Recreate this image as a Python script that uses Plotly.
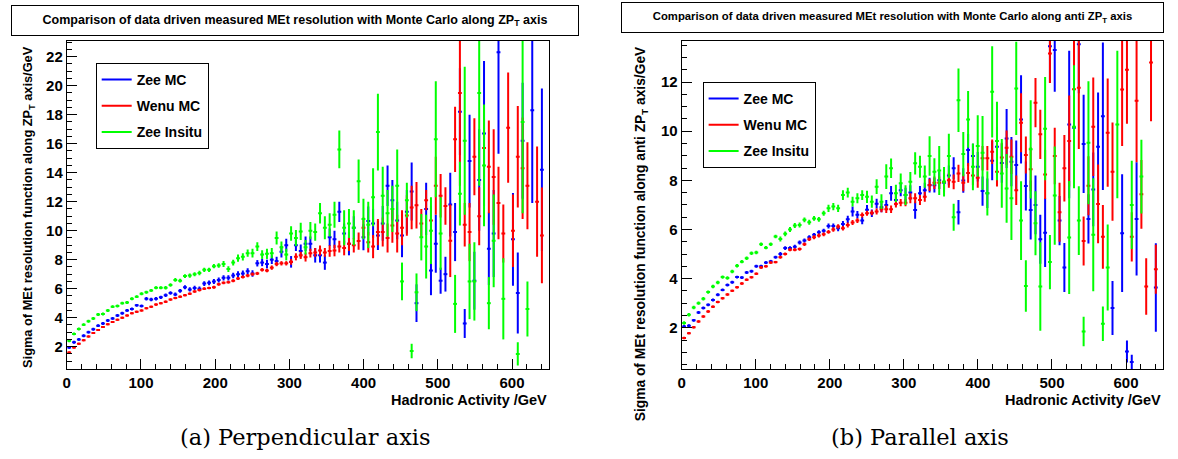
import plotly.graph_objects as go

# ---------------- data ----------------
n_bins = 100
x_low, x_high = 0.0, 650.0
bin_w = (x_high - x_low) / n_bins
hadronic_activity = [x_low + bin_w * (i + 0.5) for i in range(n_bins)]

# Perpendicular axis (left panel)
perp_zee_mc = [
    1.95, 2.3, 2.5, 2.75, 3.0, 3.2, 3.45, 3.6, 3.8, 3.95,
    4.15, 4.3, 4.5, 4.6, 4.85, 4.8, 5.3, 5.25, 5.3, 5.4,
    5.55, 5.7, 5.6, 5.85, 6.1, 5.95, 6.05, 6.0, 6.35, 6.4,
    6.5, 6.6, 6.75, 6.75, 6.9, 7.0, 7.05, 7.2, 7.05, 7.75,
    7.8, 7.7, 8.0, 7.9, 8.55, 9.0, 7.85, 9.0, 8.6, 9.1,
    9.1, 8.3, 8.3, 7.8, 9.55, 9.4, 11.3, 9.8, 9.1, 10.2,
    None, 9.55, 10.66, 10.5, 9.67, 10.5, 13.1, 12.1, 10.7, 9.67,
    11.3, 12.7, 5.0, None, 11.5, 7.25, 9.1, 6.55, 7.0, 11.8,
    9.9, 18.2, 3.6, 14.8, 6.55, 13.5, 16.7, 8.75, 9.8, 22.3,
    None, None, 9.4, 5.7, 16.2, None, 18.3, None, 14.2, None]
perp_zee_mc_err = [
    0.1, 0.1, 0.1, 0.1, 0.1, 0.1, 0.1, 0.1, 0.1, 0.1,
    0.1, 0.1, 0.1, 0.1, 0.1, 0.1, 0.12, 0.12, 0.12, 0.12,
    0.12, 0.12, 0.13, 0.13, 0.14, 0.14, 0.15, 0.15, 0.16, 0.16,
    0.17, 0.17, 0.18, 0.18, 0.19, 0.2, 0.2, 0.2, 0.22, 0.22,
    0.25, 0.3, 0.3, 0.3, 0.4, 0.45, 0.4, 0.4, 0.45, 0.5,
    0.5, 0.5, 0.5, 0.5, 0.6, 0.6, 0.7, 0.7, 0.8, 0.8,
    0.0, 0.9, 1.0, 1.0, 1.0, 1.2, 1.4, 1.4, 1.3, 1.5,
    1.5, 2.0, 1.3, 0.0, 1.8, 1.7, 2.0, 0.9, 1.2, 2.2,
    2.0, 3.0, 1.0, 3.2, 2.0, 3.5, 5.0, 2.5, 3.0, 7.0,
    0.0, 0.0, 3.2, 2.8, 4.0, 0.0, 6.4, 0.0, 5.6, 0.0]

perp_wenu_mc = [
    1.6, 1.95, 2.2, 2.45, 2.7, 2.95, 3.15, 3.35, 3.55, 3.7,
    3.85, 4.0, 4.15, 4.3, 4.4, 4.5, 4.65, 4.75, 4.9, 5.0,
    5.1, 5.25, 5.35, 5.45, 5.55, 5.65, 5.8, 5.9, 6.0, 6.05,
    6.1, 6.3, 6.4, 6.45, 6.55, 6.7, 6.8, 6.9, 7.0, 7.05,
    7.3, 7.25, 7.45, 7.7, 7.75, 7.75, 7.85, 8.2, 8.3, 8.17,
    8.45, 8.5, 8.63, 8.5, 8.6, 8.63, 8.9, 8.8, 9.1, 9.0,
    9.28, 10.2, 9.2, 8.9, 9.9, 9.9, 9.5, 10.36, 9.8, 10.2,
    11.05, 11.6, 11.75, 10.5, 12.1, 10.7, 13.1, 12.4, 11.7, 9.3,
    16.3, 19.5, 10.4, 9.9, 15.1, 11.0, 15.7, 14.4, 13.7, 11.9,
    9.8, 17.1, 10.0, 15.1, 14.3, 13.1, None, 12.0, 9.67, None]
perp_wenu_mc_err = [
    0.07, 0.07, 0.07, 0.07, 0.07, 0.07, 0.07, 0.07, 0.07, 0.07,
    0.07, 0.07, 0.07, 0.07, 0.07, 0.07, 0.07, 0.07, 0.07, 0.07,
    0.08, 0.08, 0.08, 0.08, 0.08, 0.09, 0.09, 0.09, 0.09, 0.09,
    0.1, 0.1, 0.1, 0.1, 0.1, 0.1, 0.1, 0.11, 0.11, 0.11,
    0.12, 0.12, 0.15, 0.15, 0.15, 0.15, 0.2, 0.25, 0.25, 0.3,
    0.3, 0.3, 0.35, 0.3, 0.4, 0.4, 0.4, 0.5, 0.5, 0.5,
    0.6, 0.7, 0.7, 0.8, 0.9, 1.0, 1.0, 1.2, 1.3, 1.2,
    1.4, 1.5, 1.6, 1.0, 0.7, 1.0, 2.0, 1.5, 1.3, 2.5,
    2.25, 6.4, 1.5, 2.0, 2.65, 2.0, 2.0, 3.2, 3.3, 2.5,
    2.0, 3.8, 2.5, 3.5, 3.5, 3.0, 0.0, 3.8, 3.3, 0.0]

perp_zee_insitu = [
    2.41, 2.88, 3.22, 3.52, 3.75, 3.94, 4.22, 4.25, 4.49, 4.76,
    4.8, 5.0, 5.05, 5.3, 5.45, 5.65, 5.75, 5.88, 6.06, 6.06,
    6.06, 6.25, 6.6, 6.55, 6.87, 6.9, 7.0, 7.08, 7.3, 7.3,
    7.55, 7.6, 7.7, 7.35, 7.8, 8.1, 8.2, 8.45, 8.45, 8.9,
    8.35, 8.4, 8.45, 9.5, 8.85, 8.35, 9.8, 9.5, 9.95, 8.85,
    10.0, 9.9, 11.2, 10.2, 10.4, 11.1, 15.6, 10.2, 10.5, 10.2,
    13.4, 10.8, 10.4, 12.3, 16.8, 12.4, 11.2, 11.5, 13.1, 6.5,
    12.1, 1.7, 5.75, 9.55, 8.9, 10.0, 16.3, 9.8, None, None,
    4.95, 12.55, 16.2, 6.5, 6.5, 19.5, 14.5, 5.0, 9.3, None,
    5.3, None, None, 1.5, 17.5, 4.6, None, None, None, None]
perp_zee_insitu_err = [
    0.1, 0.1, 0.1, 0.1, 0.1, 0.1, 0.1, 0.1, 0.1, 0.1,
    0.1, 0.1, 0.1, 0.1, 0.1, 0.1, 0.1, 0.1, 0.1, 0.1,
    0.12, 0.12, 0.13, 0.13, 0.13, 0.14, 0.14, 0.15, 0.15, 0.15,
    0.15, 0.15, 0.2, 0.2, 0.2, 0.25, 0.25, 0.25, 0.3, 0.3,
    0.3, 0.35, 0.35, 0.45, 0.4, 0.4, 0.5, 0.55, 0.6, 0.5,
    0.6, 0.6, 0.7, 0.8, 0.8, 0.9, 1.3, 1.2, 1.0, 1.2,
    1.5, 1.4, 1.6, 2.0, 2.65, 2.0, 1.6, 1.6, 2.5, 1.3,
    1.2, 0.5, 1.3, 1.6, 2.2, 2.3, 4.0, 2.5, 0.0, 0.0,
    2.0, 2.2, 5.1, 2.6, 2.7, 6.4, 4.2, 1.8, 3.2, 0.0,
    2.8, 0.0, 0.0, 0.8, 6.3, 1.9, 0.0, 0.0, 0.0, 0.0]

# Parallel axis (right panel)
par_zee_mc = [
    2.05, 2.08, 2.3, 2.62, 2.8, 2.93, 3.13, 3.34, 3.54, 3.74,
    3.85, 4.06, 4.04, 4.25, 4.3, 4.5, 4.5, 4.65, 4.7, 4.87,
    5.0, 5.24, 5.24, 5.3, 5.47, 5.55, 5.68, 5.78, 5.89, 5.95,
    6.14, 6.14, 6.05, 6.22, 6.41, 6.73, 6.6, 6.36, 6.8, 6.66,
    7.05, 6.9, 7.0, 7.47, 7.2, 7.6, 7.4, 7.5, 6.79, 7.47,
    7.6, 7.8, 7.8, 8.0, 7.9, 8.2, 8.49, 6.7, 7.99, 9.23,
    8.99, 8.55, 7.56, 7.47, 8.8, 9.37, 8.7, 9.7, 8.76, 8.62,
    10.48, 7.77, 6.79, 7.0, 5.6, 5.87, 13.46, 13.3, 6.36, 4.45,
    10.27, 10.14, 13.54, 9.48, 6.43, 7.63, 9.37, 10.61, None, 2.8,
    None, 5.85, 1.03, 0.6, 6.43, None, None, None, 3.64, None]
par_zee_mc_err = [
    0.06, 0.06, 0.06, 0.06, 0.06, 0.06, 0.06, 0.06, 0.06, 0.06,
    0.06, 0.06, 0.06, 0.06, 0.06, 0.06, 0.06, 0.06, 0.06, 0.06,
    0.08, 0.08, 0.08, 0.08, 0.08, 0.08, 0.08, 0.08, 0.08, 0.08,
    0.1, 0.1, 0.12, 0.12, 0.15, 0.2, 0.15, 0.15, 0.2, 0.15,
    0.2, 0.2, 0.2, 0.3, 0.25, 0.25, 0.3, 0.3, 0.35, 0.3,
    0.3, 0.3, 0.3, 0.35, 0.4, 0.4, 0.45, 0.5, 0.5, 0.65,
    0.5, 0.6, 0.6, 0.6, 0.8, 0.8, 0.8, 1.2, 1.0, 1.0,
    1.8, 1.0, 1.2, 1.2, 1.0, 1.4, 1.5, 1.7, 1.0, 1.0,
    3.0, 1.6, 2.0, 2.0, 1.0, 1.5, 2.2, 3.0, 0.0, 1.1,
    0.0, 2.4, 0.45, 0.3, 2.3, 0.0, 0.0, 0.0, 1.8, 0.0]

par_wenu_mc = [
    1.58, 1.78, 2.02, 2.25, 2.46, 2.66, 2.85, 3.05, 3.2, 3.35,
    3.5, 3.65, 3.8, 3.95, 4.05, 4.2, 4.45, 4.5, 4.65, 4.67,
    4.87, 5.0, 5.17, 5.17, 5.2, 5.4, 5.6, 5.68, 5.75, 5.8,
    5.9, 6.0, 6.12, 6.05, 6.18, 6.28, 6.36, 6.59, 6.66, 6.68,
    6.73, 6.82, 6.82, 6.82, 7.04, 7.09, 7.09, 7.27, 7.27, 7.2,
    7.33, 7.81, 7.9, 7.9, 7.94, 8.0, 7.94, 8.28, 7.9, 8.3,
    8.2, 8.1, 8.9, 8.9, 9.16, 8.35, 8.93, 9.33, 8.96, 7.6,
    10.34, 9.03, 8.45, 11.16, 9.87, 8.24, 13.16, 8.99, 6.7, 8.49,
    9.6, 11.71, 11.77, 5.53, 7.78, 10.18, 7.04, 5.7, 9.94, 8.35,
    None, 11.7, 12.5, 5.7, 11.24, 7.43, 3.68, 12.8, 4.38, None]
par_wenu_mc_err = [
    0.05, 0.05, 0.05, 0.05, 0.05, 0.05, 0.05, 0.05, 0.05, 0.05,
    0.05, 0.05, 0.05, 0.05, 0.05, 0.05, 0.05, 0.05, 0.05, 0.05,
    0.06, 0.06, 0.06, 0.06, 0.07, 0.07, 0.07, 0.08, 0.08, 0.08,
    0.08, 0.09, 0.09, 0.09, 0.1, 0.1, 0.1, 0.1, 0.1, 0.1,
    0.12, 0.12, 0.15, 0.15, 0.15, 0.15, 0.15, 0.2, 0.2, 0.2,
    0.2, 0.25, 0.25, 0.25, 0.3, 0.3, 0.3, 0.35, 0.35, 0.4,
    0.4, 0.4, 0.5, 0.5, 0.5, 0.6, 0.6, 0.7, 0.7, 0.6,
    1.2, 0.75, 0.9, 1.0, 1.0, 1.0, 1.2, 1.15, 1.2, 1.35,
    1.85, 2.5, 2.5, 1.0, 1.2, 2.0, 1.6, 1.3, 2.2, 2.0,
    0.0, 2.3, 2.2, 1.0, 2.5, 1.4, 1.15, 2.4, 1.0, 0.0]

par_zee_insitu = [
    2.19, 2.53, 2.82, 3.0, 3.18, 3.45, 3.68, 3.84, 4.06, 4.02,
    4.29, 4.52, 4.69, 4.83, 5.03, 5.06, 5.4, 5.26, 5.4, 5.71,
    5.61, 5.82, 6.0, 6.16, 6.18, 6.39, 6.29, 6.45, 6.41, 6.66,
    6.86, 6.93, 6.86, 7.4, 7.5, 7.13, 7.27, 7.4, 7.33, 7.13,
    7.74, 7.13, 8.15, 8.49, 7.47, 7.88, 7.4, 7.94, 8.69, 8.55,
    8.15, 8.99, 8.35, 8.4, 7.94, 8.99, 6.5, 11.26, 9.07, 10.48,
    8.55, 9.4, 9.12, 7.47, 11.6, 9.6, 8.28, 7.67, 7.27, 11.74,
    6.36, 3.7, 9.26, 6.25, 3.68, 10.1, 4.67, 7.38, None, None,
    5.67, 10.18, 6.36, 1.85, 9.53, 5.78, None, 2.16, 4.45, None,
    10.27, None, None, 7.0, None, 8.15, None, None, None, None]
par_zee_insitu_err = [
    0.07, 0.07, 0.07, 0.07, 0.07, 0.07, 0.07, 0.07, 0.07, 0.07,
    0.07, 0.07, 0.07, 0.07, 0.07, 0.07, 0.07, 0.07, 0.07, 0.07,
    0.1, 0.1, 0.1, 0.1, 0.1, 0.1, 0.1, 0.1, 0.1, 0.1,
    0.15, 0.15, 0.15, 0.2, 0.2, 0.2, 0.2, 0.2, 0.25, 0.25,
    0.3, 0.3, 0.5, 0.4, 0.35, 0.4, 0.4, 0.4, 0.45, 0.45,
    0.45, 0.8, 0.55, 1.0, 0.6, 0.9, 0.55, 1.29, 0.9, 1.15,
    0.95, 1.25, 1.5, 0.9, 1.86, 1.6, 1.4, 1.4, 1.7, 1.9,
    1.6, 1.05, 2.0, 1.3, 1.8, 2.1, 1.1, 2.0, 0.0, 0.0,
    2.3, 2.5, 1.4, 0.6, 2.5, 2.3, 0.0, 0.7, 1.75, 0.0,
    3.0, 0.0, 0.0, 1.8, 0.0, 1.5, 0.0, 0.0, 0.0, 0.0]

series_names = ["Zee MC", "Wenu MC", "Zee Insitu"]
series_colors = ["#0000ff", "#ff0000", "#00ff00"]

# ---------------- figure ----------------
W, H = 1178, 459
FONT = "Liberation Sans, Arial, Helvetica, sans-serif"


def fx(p):
    return p / W


def fy(p):
    return 1 - p / H


fig = go.Figure()

panels = [
    ("x", "y", "legend", [perp_zee_mc, perp_wenu_mc, perp_zee_insitu],
     [perp_zee_mc_err, perp_wenu_mc_err, perp_zee_insitu_err]),
    ("x2", "y2", "legend2", [par_zee_mc, par_wenu_mc, par_zee_insitu],
     [par_zee_mc_err, par_wenu_mc_err, par_zee_insitu_err]),
]

for xa, ya, lg, vals, errs in panels:
    for name, col, v, e in zip(series_names, series_colors, vals, errs):
        fig.add_trace(go.Scatter(
            x=hadronic_activity, y=v, xaxis=xa, yaxis=ya,
            mode="markers", marker=dict(size=2, color=col),
            error_y=dict(type="data", array=e, visible=True, color=col,
                         thickness=2, width=0),
            error_x=dict(type="constant", value=2.6, visible=True, color=col,
                         thickness=2, width=0),
            showlegend=False, hoverinfo="skip"))
    for name, col in zip(series_names, series_colors):
        fig.add_trace(go.Scatter(
            x=[None], y=[None], xaxis=xa, yaxis=ya, mode="lines",
            line=dict(color=col, width=2), name=name, legend=lg,
            legendgroup=lg + name, showlegend=True))

axis_common = dict(
    showline=True, linecolor="black", linewidth=1, mirror=True,
    ticks="inside", ticklen=10, tickwidth=1, tickcolor="black",
    showgrid=False, zeroline=False,
    tickfont=dict(family=FONT, size=15, color="black", weight="bold"),
)

ydom = [fy(369), fy(41)]
fig.update_layout(
    width=W, height=H, margin=dict(l=0, r=0, t=0, b=0),
    paper_bgcolor="white", plot_bgcolor="white",
    xaxis=dict(domain=[fx(63), fx(547)], range=[0, 650], anchor="y",
               dtick=100, minor=dict(ticks="inside", ticklen=5, dtick=20,
                                     tickcolor="black"), **axis_common),
    yaxis=dict(domain=ydom, range=[0.46, 23.08], anchor="x",
               dtick=2, minor=dict(ticks="inside", ticklen=5, dtick=0.5,
                                   tickcolor="black"), **axis_common),
    xaxis2=dict(domain=[fx(680), fx(1163)], range=[0, 650], anchor="y2",
                dtick=100, minor=dict(ticks="inside", ticklen=5, dtick=20,
                                      tickcolor="black"), **axis_common),
    yaxis2=dict(domain=ydom, range=[0.32, 13.67], anchor="x2",
                dtick=2, minor=dict(ticks="inside", ticklen=5, dtick=0.5,
                                    tickcolor="black"), **axis_common),
    legend=dict(x=fx(92), y=fy(63), xanchor="left", yanchor="top",
                bordercolor="black", borderwidth=1, bgcolor="white",
                font=dict(family=FONT, size=14, color="black", weight="bold"),
                tracegroupgap=5, itemwidth=30),
    legend2=dict(x=fx(701), y=fy(82), xanchor="left", yanchor="top",
                 bordercolor="black", borderwidth=1, bgcolor="white",
                 font=dict(family=FONT, size=14, color="black", weight="bold"),
                 tracegroupgap=5, itemwidth=30),
    showlegend=True,
)

ann = []
# title boxes
ann.append(dict(text="Comparison of data driven measured MEt resolution with Monte Carlo along ZP<sub>T</sub> axis",
                x=fx(292), y=fy(20), xref="paper", yref="paper", showarrow=False,
                xanchor="center", yanchor="middle", width=566, height=29,
                bordercolor="black", borderwidth=1, borderpad=0, bgcolor="white",
                font=dict(family=FONT, size=12.5, color="black", weight="bold")))
ann.append(dict(text="Comparison of data driven measured MEt resolution with Monte Carlo along anti ZP<sub>T</sub> axis",
                x=fx(892), y=fy(18), xref="paper", yref="paper", showarrow=False,
                xanchor="center", yanchor="middle", width=541, height=29,
                bordercolor="black", borderwidth=1, borderpad=0, bgcolor="white",
                font=dict(family=FONT, size=11.3, color="black", weight="bold")))
# y titles
ann.append(dict(text="Sigma of MEt resolution function along ZP<sub>T</sub> axis/GeV",
                x=fx(25), y=fy(44), xref="paper", yref="paper", showarrow=False,
                xanchor="center", yanchor="top", textangle=-90,
                font=dict(family=FONT, size=12.8, color="black", weight="bold")))
ann.append(dict(text="Sigma of MEt resolution function along anti ZP<sub>T</sub> axis/GeV",
                x=fx(640), y=fy(44), xref="paper", yref="paper", showarrow=False,
                xanchor="center", yanchor="top", textangle=-90,
                font=dict(family=FONT, size=13.8, color="black", weight="bold")))
# x titles
for xr in (547, 1163):
    ann.append(dict(text="Hadronic Activity /GeV", x=fx(xr), y=fy(400),
                    xref="paper", yref="paper", showarrow=False,
                    xanchor="right", yanchor="middle",
                    font=dict(family=FONT, size=14.5, color="black", weight="bold")))
# captions
cap_font = dict(family="DejaVu Serif, Liberation Serif, serif", size=22.5, color="black")
ann.append(dict(text="(a) Perpendicular axis", x=fx(303), y=fy(437),
                xref="paper", yref="paper", showarrow=False,
                xanchor="center", yanchor="middle", font=cap_font))
ann.append(dict(text="(b) Parallel axis", x=fx(919), y=fy(437),
                xref="paper", yref="paper", showarrow=False,
                xanchor="center", yanchor="middle", font=cap_font))
fig.update_layout(annotations=ann)

fig.write_html("out.html")
